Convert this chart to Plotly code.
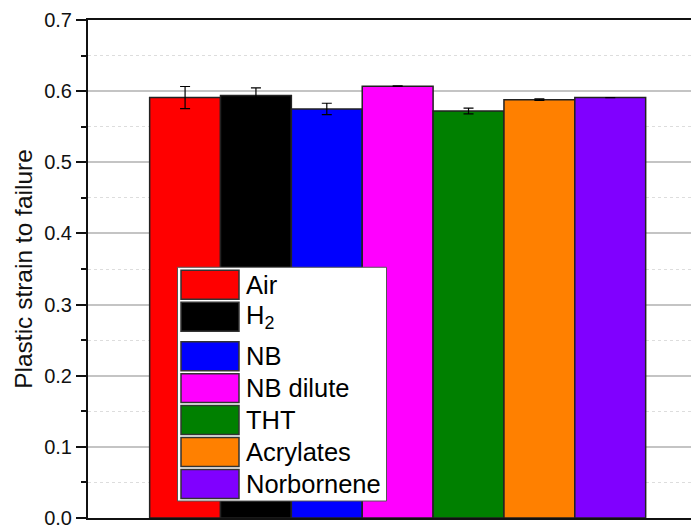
import plotly.graph_objects as go

# ---- data ----
series_names = ["Air", "H<sub>2</sub>", "NB", "NB dilute", "THT", "Acrylates", "Norbornene"]
series_values = [0.591, 0.594, 0.575, 0.607, 0.572, 0.588, 0.591]
series_errors = [0.0155, 0.0105, 0.008, 0.0005, 0.004, 0.001, 0.0]
series_colors = ["#ff0000", "#000000", "#0000ff", "#ff00ff", "#008000", "#ff8000", "#8000ff"]
y_tick_values = [0.0, 0.1, 0.2, 0.3, 0.4, 0.5, 0.6, 0.7]
y_tick_labels = ["0.0", "0.1", "0.2", "0.3", "0.4", "0.5", "0.6", "0.7"]

# page body has an 8px margin; figure sized so it ends at the window edge
OFF = 8
W, H = 699 - OFF, 532 - OFF
ML, MR, MT, MB = 88 - OFF, 0, 19.5 - OFF, 532 - 518
FONT = "Liberation Sans, Arial, sans-serif"

fig = go.Figure()
for i, (name, v, e, c) in enumerate(zip(series_names, series_values, series_errors, series_colors)):
    fig.add_trace(go.Bar(
        x=[i], y=[v], name=name, width=1.0,
        marker=dict(color=c, line=dict(color="#222222", width=1.5)),
        error_y=dict(type="data", array=[e], visible=True, color="#000000",
                     thickness=1.2, width=5),
        showlegend=False,
    ))

pw = W - ML - MR
ph = H - MT - MB


def px_x(x):
    return (x - OFF - ML) / pw


def px_y(y):
    return 1 - (y - OFF - MT) / ph


shapes = []
annotations = []
shapes.append(dict(type="rect", xref="paper", yref="paper",
                   x0=px_x(177.5), x1=px_x(386.5), y0=px_y(501), y1=px_y(267),
                   fillcolor="white", line=dict(color="#555555", width=1), layer="above"))
row_top = 270.0
for i, (name, c) in enumerate(zip(series_names, series_colors)):
    top = row_top
    bot = top + 29
    shapes.append(dict(type="rect", xref="paper", yref="paper",
                       x0=px_x(181), x1=px_x(239), y0=px_y(bot), y1=px_y(top),
                       fillcolor=c, line=dict(color="#333333", width=1.5), layer="above"))
    annotations.append(dict(xref="paper", yref="paper", x=px_x(244), y=px_y((top + bot) / 2),
                            text=name, showarrow=False, xanchor="left", yanchor="middle",
                            font=dict(family=FONT, size=25.5, color="black")))
    row_top += 32 + (7.5 if i == 1 else 0)

fig.update_layout(
    width=W, height=H,
    margin=dict(l=ML, r=MR, t=MT, b=MB, autoexpand=False),
    paper_bgcolor="white", plot_bgcolor="white",
    barmode="overlay",
    shapes=shapes, annotations=annotations,
    font=dict(family=FONT, color="black"),
    xaxis=dict(range=[-1.37, -1.37 + pw / 70.86], showticklabels=False, ticks="",
               showgrid=False, zeroline=False, showline=True, mirror=True,
               linecolor="#111111", linewidth=2, automargin=False),
    yaxis=dict(range=[0, 0.7], tickvals=y_tick_values, ticktext=y_tick_labels,
               ticks="outside", ticklen=10, tickwidth=2, tickcolor="#111111",
               tickfont=dict(family=FONT, size=20, color="#111111"),
               showline=True, linecolor="#111111", linewidth=2, zeroline=False,
               showgrid=True, gridcolor="#c4c4c4", gridwidth=1.5, automargin=False,
               title=dict(text="Plastic strain to failure", standoff=5,
                          font=dict(family=FONT, size=24.5, color="#111111")),
               minor=dict(dtick=0.05, ticks="outside", ticklen=5, tickwidth=2,
                          tickcolor="#111111", showgrid=True, gridcolor="#dddddd",
                          griddash="dot", gridwidth=1)),
)

fig.write_html("out.html")
